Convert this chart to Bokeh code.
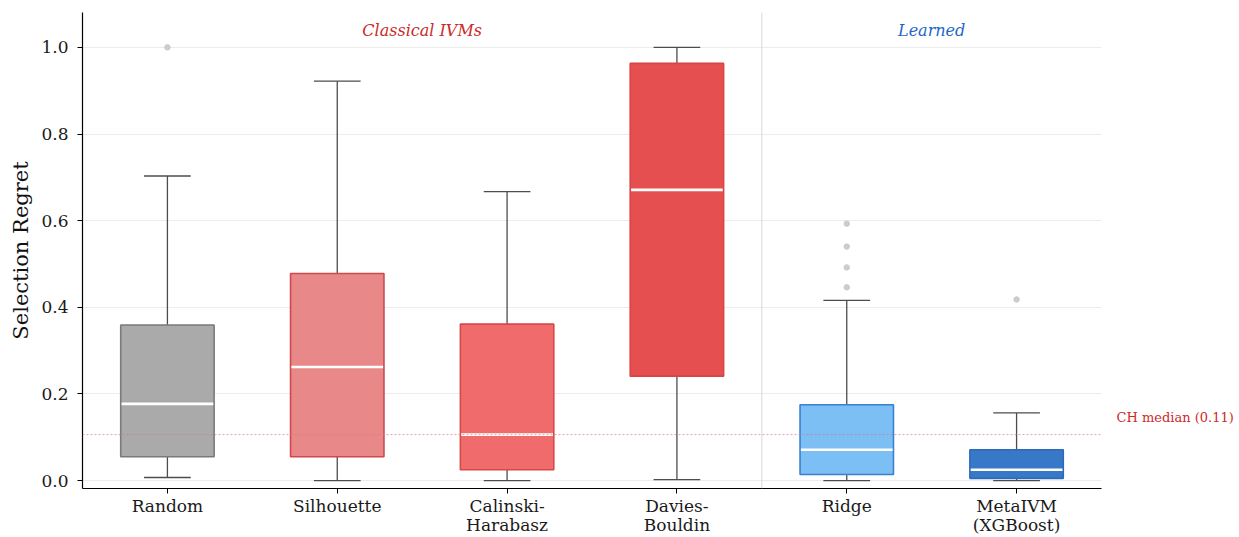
from bokeh.plotting import figure
from bokeh.models import FixedTicker, Label, Span, ColumnDataSource, LinearAxis
from bokeh.embed import file_html
from bokeh.resources import INLINE

categories = ["Random", "Silhouette", "Calinski-\nHarabasz", "Davies-\nBouldin", "Ridge", "MetaIVM\n(XGBoost)"]
whisker_low = [0.007, 0.0, 0.0, 0.002, 0.0, 0.0]
q1 = [0.055, 0.055, 0.025, 0.241, 0.014, 0.005]
median = [0.177, 0.262, 0.106, 0.671, 0.071, 0.025]
q3 = [0.359, 0.478, 0.361, 0.963, 0.175, 0.071]
whisker_high = [0.703, 0.922, 0.667, 1.0, 0.416, 0.156]
outlier_cat = [0, 4, 4, 4, 4, 5]
outlier_val = [1.0, 0.593, 0.540, 0.492, 0.446, 0.418]
fill_colors = ["#aaaaaa", "#e88889", "#f06c6c", "#e64f4f", "#7bbff5", "#3878c8"]
edge_colors = ["#7a7a7a", "#d0484c", "#d84848", "#d84444", "#3a80d0", "#2e6ab8"]
ch_median = 0.106
ch_label = "CH median (0.11)"
y_ticks = [0.0, 0.2, 0.4, 0.6, 0.8, 1.0]

FONT = "DejaVu Serif"
xs = list(range(len(categories)))
bw = 0.55
cw = 0.275

p = figure(width=1239, height=537, x_range=(-0.5, 5.5), y_range=(-0.0184, 1.0805),
           output_backend="svg", toolbar_location=None,
           min_border_left=82, min_border_right=138, min_border_top=12, min_border_bottom=47)
p.outline_line_color = None
p.background_fill_color = "white"
p.border_fill_color = "white"

p.xgrid.grid_line_color = None
p.ygrid.grid_line_color = "#ececec"
p.ygrid.grid_line_width = 1
p.yaxis.ticker = FixedTicker(ticks=y_ticks)
p.xaxis.ticker = FixedTicker(ticks=xs)
p.xaxis.major_label_overrides = {i: c for i, c in enumerate(categories)}
p.yaxis.major_label_overrides = {t: f"{t:.1f}" for t in y_ticks}

for ax in (p.xaxis, p.yaxis):
    ax.axis_line_color = "black"
    ax.axis_line_width = 1.2
    ax.major_tick_line_color = "black"
    ax.major_tick_out = 5
    ax.major_tick_in = 0
    ax.minor_tick_line_color = None
    ax.major_label_text_font = FONT
    ax.major_label_text_font_size = "17px"
    ax.major_label_text_color = "#1a1a1a"
p.xaxis.major_label_text_line_height = 0.95
p.xaxis.major_label_standoff = 2
p.yaxis.major_label_standoff = 9
p.yaxis.axis_label = "Selection Regret"
p.yaxis.axis_label_text_font = FONT
p.yaxis.axis_label_text_font_style = "normal"
p.yaxis.axis_label_text_font_size = "21px"
p.yaxis.axis_label_text_color = "#111111"
p.yaxis.axis_label_standoff = 5

rax = LinearAxis(ticker=FixedTicker(ticks=[0.145]), major_label_overrides={0.145: ch_label})
rax.axis_line_color = None
rax.major_tick_line_color = None
rax.minor_tick_line_color = None
rax.major_label_text_font = FONT
rax.major_label_text_font_size = "13px"
rax.major_label_text_color = "#cc2a2a"
rax.major_label_standoff = 9
p.add_layout(rax, "right")

p.add_layout(Span(location=3.5, dimension="height", line_color="#d8d8d8", line_width=1))
p.add_layout(Span(location=ch_median, dimension="width", line_color="#e0708a",
                  line_width=1, line_dash="2 2", line_alpha=0.7))

src = ColumnDataSource(dict(x=xs, lo=whisker_low, q1=q1, med=median, q3=q3, hi=whisker_high,
                            fill=fill_colors, edge=edge_colors,
                            cl=[x - cw / 2 for x in xs], cr=[x + cw / 2 for x in xs],
                            ml=[x - bw / 2 + 0.005 for x in xs], mr=[x + bw / 2 - 0.005 for x in xs]))

p.segment(x0="x", y0="q3", x1="x", y1="hi", source=src, line_color="#4d4d4d", line_width=1.3)
p.segment(x0="x", y0="lo", x1="x", y1="q1", source=src, line_color="#4d4d4d", line_width=1.3)
p.segment(x0="cl", y0="hi", x1="cr", y1="hi", source=src, line_color="#4d4d4d", line_width=1.3)
p.segment(x0="cl", y0="lo", x1="cr", y1="lo", source=src, line_color="#4d4d4d", line_width=1.3)
p.vbar(x="x", width=bw, bottom="q1", top="q3", source=src, fill_color="fill",
       line_color="edge", line_width=1.6)
p.segment(x0="ml", y0="med", x1="mr", y1="med", source=src, line_color="white", line_width=2.6)
p.scatter(x=outlier_cat, y=outlier_val, size=5.5, fill_color="#cccccc", line_color="#cccccc")

p.add_layout(Label(x=1.5, y=1.04, text="Classical IVMs", text_font=FONT, text_font_style="italic",
                   text_font_size="16px", text_color="#cc2a2a", text_align="center",
                   text_baseline="middle"))
p.add_layout(Label(x=4.5, y=1.04, text="Learned", text_font=FONT, text_font_style="italic",
                   text_font_size="16px", text_color="#1f66c8", text_align="center",
                   text_baseline="middle"))

open("out.html", "w").write(file_html(p, INLINE))
